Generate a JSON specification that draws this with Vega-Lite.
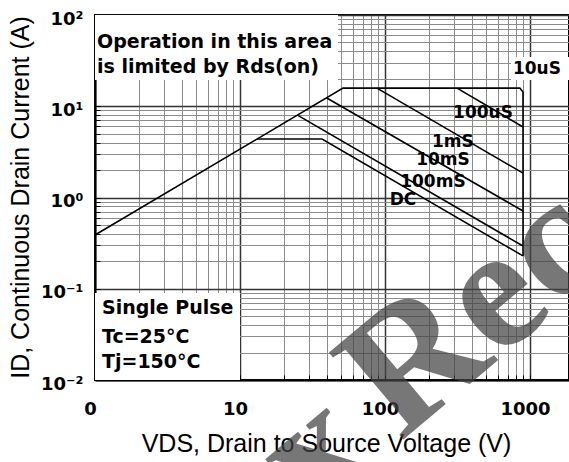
{
  "$schema": "https://vega.github.io/schema/vega-lite/v6.json",
  "width": 474,
  "height": 365,
  "autosize": {"type": "none"},
  "padding": {"left": 95, "top": 15, "right": 0, "bottom": 82},
  "background": "white",
  "config": {
    "view": {"stroke": "black", "strokeWidth": 2}
  },
  "datasets": {
    "curves": [
      {"curve": "10uS", "o": 1, "V": 1, "I": 0.388},
      {"curve": "10uS", "o": 2, "V": 51.3, "I": 15.8},
      {"curve": "10uS", "o": 3, "V": 851, "I": 15.8},
      {"curve": "10uS", "o": 4, "V": 895, "I": 14.3},
      {"curve": "10uS", "o": 5, "V": 895, "I": 0.229},
      {"curve": "100uS", "o": 1, "V": 314, "I": 15.8},
      {"curve": "100uS", "o": 2, "V": 895, "I": 5.93},
      {"curve": "1mS", "o": 1, "V": 88, "I": 15.8},
      {"curve": "1mS", "o": 2, "V": 895, "I": 1.85},
      {"curve": "10mS", "o": 1, "V": 39.4, "I": 12.4},
      {"curve": "10mS", "o": 2, "V": 895, "I": 0.711},
      {"curve": "100mS", "o": 1, "V": 24.9, "I": 8.0},
      {"curve": "100mS", "o": 2, "V": 895, "I": 0.294},
      {"curve": "DC", "o": 1, "V": 13.1, "I": 4.38},
      {"curve": "DC", "o": 2, "V": 36.8, "I": 4.38},
      {"curve": "DC", "o": 3, "V": 895, "I": 0.229}
    ],
    "boxes": [
      {"V": 1, "V2": 47.4, "I": 19.4, "I2": 100},
      {"V": 1, "V2": 10, "I": 0.01, "I2": 0.0897},
      {"V": 740, "V2": 1858, "I": 19.4, "I2": 34.7}
    ],
    "notes": [
      {"g": "top", "t": "Operation in this area", "V": 1, "I": 50.6},
      {"g": "top", "t": "is limited by Rds(on)", "V": 1, "I": 26.9},
      {"g": "bottom", "t": "Single Pulse", "V": 1, "I": 0.0615},
      {"g": "bottom", "t": "Tc=25°C", "V": 1, "I": 0.0296},
      {"g": "bottom", "t": "Tj=150°C", "V": 1, "I": 0.01574}
    ],
    "labels": [
      {"t": "10uS", "V": 1117, "I": 25.6},
      {"t": "100uS", "V": 474, "I": 8.43},
      {"t": "1mS", "V": 294, "I": 4.06},
      {"t": "10mS", "V": 251, "I": 2.58},
      {"t": "100mS", "V": 214, "I": 1.48},
      {"t": "DC", "V": 133, "I": 0.94}
    ],
    "watermark": [
      {"t": "Rec", "V": 411, "I": 0.057},
      {"t": "x", "V": 32.5, "I": 0.00155}
    ]
  },
  "encoding": {
    "x": {
      "field": "V",
      "type": "quantitative",
      "scale": {"type": "log", "domain": [1, 1858], "nice": false},
      "axis": {
        "values": [1,2,3,4,5,6,7,8,9,10,20,30,40,50,60,70,80,90,100,200,300,400,500,600,700,800,900,1000],
        "grid": true,
        "gridColor": {"condition": {"test": "indexof([1,10,100,1000], datum.value) >= 0", "value": "#333333"}, "value": "#8c8c8c"},
        "gridWidth": {"condition": {"test": "indexof([1,10,100,1000], datum.value) >= 0", "value": 1.5}, "value": 1},
        "tickSize": -5,
        "tickColor": "black",
        "domainColor": "black",
        "domainWidth": 2,
        "labelExpr": "datum.value == 1 ? '0' : datum.value == 10 ? '10' : datum.value == 100 ? '100' : datum.value == 1000 ? '1000' : ''",
        "labelFont": "DejaVu Sans",
        "labelFontWeight": "bold",
        "labelFontSize": 18,
        "labelColor": "black",
        "labelPadding": 25,
        "labelOffset": -5,
        "labelFlush": false,
        "labelOverlap": false,
        "title": "VDS, Drain to Source Voltage (V)",
        "titleFont": "Liberation Sans",
        "titleFontSize": 25,
        "titleFontWeight": "normal",
        "titleColor": "black",
        "titleX": 231,
        "titleY": 63,
        "titleAlign": "center",
        "titleBaseline": "middle"
      }
    },
    "y": {
      "field": "I",
      "type": "quantitative",
      "scale": {"type": "log", "domain": [0.01, 100], "nice": false},
      "axis": {
        "values": [0.01,0.02,0.03,0.04,0.05,0.06,0.07,0.08,0.09,0.1,0.2,0.3,0.4,0.5,0.6,0.7,0.8,0.9,1,2,3,4,5,6,7,8,9,10,20,30,40,50,60,70,80,90,100],
        "grid": true,
        "gridColor": {"condition": {"test": "indexof([0.01,0.1,1,10,100], datum.value) >= 0", "value": "#333333"}, "value": "#8c8c8c"},
        "gridWidth": {"condition": {"test": "indexof([0.01,0.1,1,10,100], datum.value) >= 0", "value": 1.5}, "value": 1},
        "tickSize": -5,
        "tickColor": "black",
        "domainColor": "black",
        "domainWidth": 2,
        "labelExpr": "datum.value == 100 ? '10²' : datum.value == 10 ? '10¹' : datum.value == 1 ? '10⁰' : datum.value == 0.1 ? '10⁻¹' : datum.value == 0.01 ? '10⁻²' : ''",
        "labelFont": "DejaVu Sans",
        "labelFontWeight": "bold",
        "labelFontSize": 18,
        "labelColor": "black",
        "labelPadding": 17,
        "labelOffset": 4,
        "labelFlush": false,
        "labelOverlap": false,
        "title": "ID, Continuous Drain Current (A)",
        "titleFont": "Liberation Sans",
        "titleFontSize": 25,
        "titleFontWeight": "normal",
        "titleColor": "black",
        "titleX": -75,
        "titleY": 182,
        "titleAngle": -90,
        "titleAlign": "center",
        "titleBaseline": "middle"
      }
    }
  },
  "layer": [
    {
      "data": {"name": "boxes"},
      "mark": {"type": "rect", "fill": "white", "stroke": null},
      "encoding": {
        "x2": {"field": "V2"},
        "y2": {"field": "I2"}
      }
    },
    {
      "data": {"name": "curves"},
      "mark": {"type": "line", "color": "black", "strokeWidth": 1.6},
      "encoding": {
        "detail": {"field": "curve"},
        "order": {"field": "o", "type": "quantitative"}
      }
    },
    {
      "data": {"name": "notes"},
      "transform": [{"filter": "datum.g == 'top'"}],
      "mark": {"type": "text", "align": "left", "baseline": "middle", "dx": 2, "font": "DejaVu Sans", "fontWeight": "bold", "fontSize": 19, "color": "black"},
      "encoding": {"text": {"field": "t"}}
    },
    {
      "data": {"name": "notes"},
      "transform": [{"filter": "datum.g == 'bottom'"}],
      "mark": {"type": "text", "align": "left", "baseline": "middle", "dx": 7, "font": "DejaVu Sans", "fontWeight": "bold", "fontSize": 19, "color": "black"},
      "encoding": {"text": {"field": "t"}}
    },
    {
      "data": {"name": "labels"},
      "mark": {"type": "text", "align": "center", "baseline": "middle", "font": "DejaVu Sans", "fontWeight": "bold", "fontSize": 17, "color": "black"},
      "encoding": {"text": {"field": "t"}}
    },
    {
      "data": {"name": "watermark"},
      "mark": {"type": "text", "align": "center", "baseline": "middle", "angle": -40, "font": "Liberation Serif", "fontWeight": "bold", "fontSize": 175, "color": "#444444", "opacity": 0.72},
      "encoding": {"text": {"field": "t"}}
    }
  ]
}
